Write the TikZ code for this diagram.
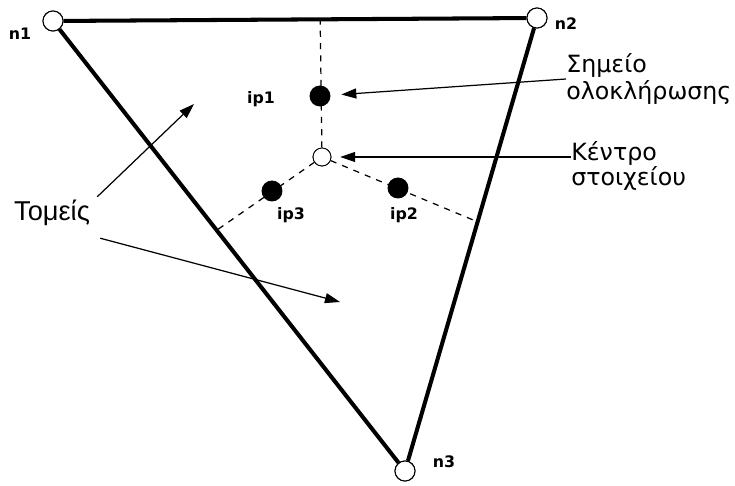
\documentclass[tikz,border=0pt]{standalone}
\usepackage{fontspec}
\setmainfont{Liberation Sans}
\newfontfamily\lblfont{DejaVu Sans}
\usetikzlibrary{arrows.meta,calc}
\tikzset{
  vtx/.style={circle,draw=black,line width=.6pt,fill=white,minimum size=.4cm,inner sep=0pt},
  ctr/.style={circle,draw=black,line width=.5pt,fill=white,minimum size=.36cm,inner sep=0pt},
  ipt/.style={circle,fill=black,minimum size=.42cm,inner sep=0pt},
  edg/.style={line width=2.3pt},
  dsh/.style={line width=.7pt,dash pattern=on 3.5pt off 3.5pt},
  ar/.style ={-{Triangle[length=3mm,width=2mm]},line width=.7pt},
  lbl/.style={font=\lblfont\bfseries\fontsize{9}{10}\selectfont,inner sep=0pt},
  txt/.style={font=\lblfont\fontsize{13.5}{15}\selectfont,align=left,inner sep=0pt},
}
\begin{document}
\begin{tikzpicture}[x=.02cm,y=-.02cm]
  \useasboundingbox (0,0) rectangle (735,486);
  % triangle corners
  \node[vtx] (n1) at (53,21){};
  \node[vtx] (n2) at (537,18){};
  \node[vtx] (n3) at (405,471){};
  % sector borders
  \node[ctr] (c) at (322,157){};
  \coordinate (e12) at ($(n1)!.552!(n2)$);
  \coordinate (e13) at ($(n1)!.465!(n3)$);
  \coordinate (e23) at ($(n2)!.45!(n3)$);
  \draw[dsh] (c) -- (e12);
  \draw[dsh] (c) -- (e13);
  \draw[dsh] (c) -- (e23);
  \draw[edg] (n1) -- (n2) -- (n3) -- (n1);
  \node[vtx] at (n1){};
  \node[vtx] at (n2){};
  \node[vtx] at (n3){};
  \node[ctr] at (c){};
  % integration points
  \node[ipt] (ip1) at (320,96){};
  \node[ipt] (ip2) at (398,188){};
  \node[ipt] (ip3) at (272,191){};
  \node[lbl] at (20,34){n1};
  \node[lbl] at (566,24){n2};
  \node[lbl] at (444,462){n3};
  \node[lbl] at (261,99){ip1};
  \node[lbl] at (404,215){ip2};
  \node[lbl] at (291,215){ip3};
  % legend
  \node[txt,anchor=west] (sim) at (566,79){Σημείο\\ολοκλήρωσης};
  \node[txt,font=\lblfont\fontsize{13.5}{13}\selectfont,anchor=north west] (ken) at (571,141){Κέντρο\\στοιχείου};
  \node[font=\fontsize{15.5}{18}\selectfont,inner sep=0pt] (tom) at (52,213){Τομείς};
  \coordinate (s1) at (194,104);
  \coordinate (s2) at (340,302);
  \draw[ar,shorten >=6pt] (sim.west) -- (ip1);
  \draw[ar,shorten >=5pt] (ken.west |- c) -- (c);
  \draw[ar] ($(tom.north east)+(7,-3)$) -- (s1);
  \draw[ar] ($(tom.south east)+(10,12)$) -- (s2);
\end{tikzpicture}
\end{document}
